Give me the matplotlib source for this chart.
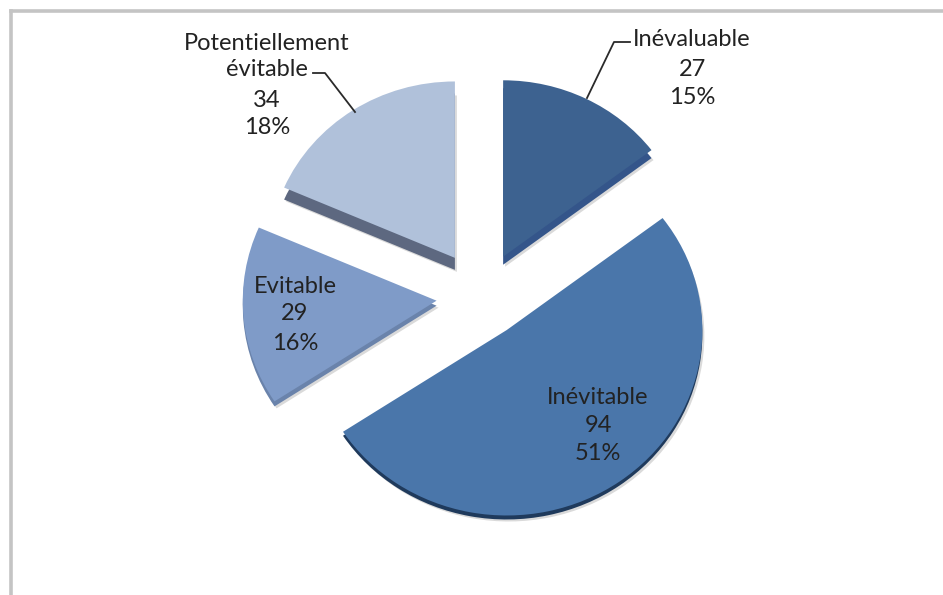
# pie chart, exploded slices with a fake 3d edge
import matplotlib
matplotlib.use('Agg')
import matplotlib.pyplot as plt
from matplotlib.lines import Line2D

plt.rcParams['font.family'] = ['Lato', 'DejaVu Sans']

# data
names = ['Inévaluable', 'Inévitable', 'Evitable', 'Potentiellement\névitable']
values = [27, 94, 29, 34]
percents = [15, 51, 16, 18]

colors = ['#3d6290', '#4a76aa', '#7f9bc8', '#b0c1da']
side_colors = ['#34558a', '#1f3a5c', '#6a83ab', '#5d6880']
explode = [0.25, 0.225, 0.24, 0.26]
radius = [0.98, 1.03, 1.02, 0.98]
depth = [8, 4, 5, 12]

W, H = 943, 595
cx, cy = 482, 297   # pie centre in pixels
rx, ry = 190, 180   # pixels for one data unit

fig = plt.figure(figsize=(W / 100, H / 100), dpi=100)
ax = fig.add_axes([0, 0, 1, 1])


def draw_pie(cols, dx, dy):
    wedges, _ = ax.pie(values, explode=explode, colors=cols, startangle=90,
                       counterclock=False, wedgeprops={'linewidth': 0})
    for i, w in enumerate(wedges):
        w.set_radius(radius[i])
        x, y = w.center
        w.set_center((x + dx / rx, y - (depth[i] + dy) / ry))


# soft shadow, side, top
draw_pie(['#dadada'] * 4, 2, 2)
draw_pie(side_colors, 0, 0)
wedges, _ = ax.pie(values, explode=explode, colors=colors, startangle=90,
                   counterclock=False, wedgeprops={'linewidth': 0})
for i, w in enumerate(wedges):
    w.set_radius(radius[i])

ax.set_aspect('auto')
ax.set_xlim(-cx / rx, (W - cx) / rx)
ax.set_ylim(-(H - cy) / ry, cy / ry)
ax.axis('off')


def px(x, y):
    return x / W, 1 - y / H


# labels, one line at a time
def label(x, ys, lines):
    for y, s in zip(ys, lines):
        fig.text(*px(x, y + 2), s, ha='center', va='center', fontsize=17, color='#222222')


label(692, [38, 67, 96], [names[0], str(values[0]), f'{percents[0]}%'])
label(598, [395, 423, 452], [names[1], str(values[1]), f'{percents[1]}%'])
label(295, [284, 312, 341], [names[2], str(values[2]), f'{percents[2]}%'])
first, second = names[3].split('\n')
label(267, [41, 68, 98, 126], [first, second, str(values[3]), f'{percents[3]}%'])

# leader lines
for xs, ys in [([630, 614, 587], [42, 42, 98]), ([313, 325, 355], [73, 73, 112])]:
    fig.add_artist(Line2D([x / W for x in xs], [1 - y / H for y in ys],
                          color='#2a2a2a', lw=1.3))

# grey frame of the picture, open on the right and at the bottom
for xs, ys in [([10.5, 10.5], [11, H]), ([10.5, W], [11, 11])]:
    fig.add_artist(Line2D([x / W for x in xs], [1 - y / H for y in ys],
                          color='#c4c4c4', lw=2.6))

fig.savefig('out.png', dpi=100)
